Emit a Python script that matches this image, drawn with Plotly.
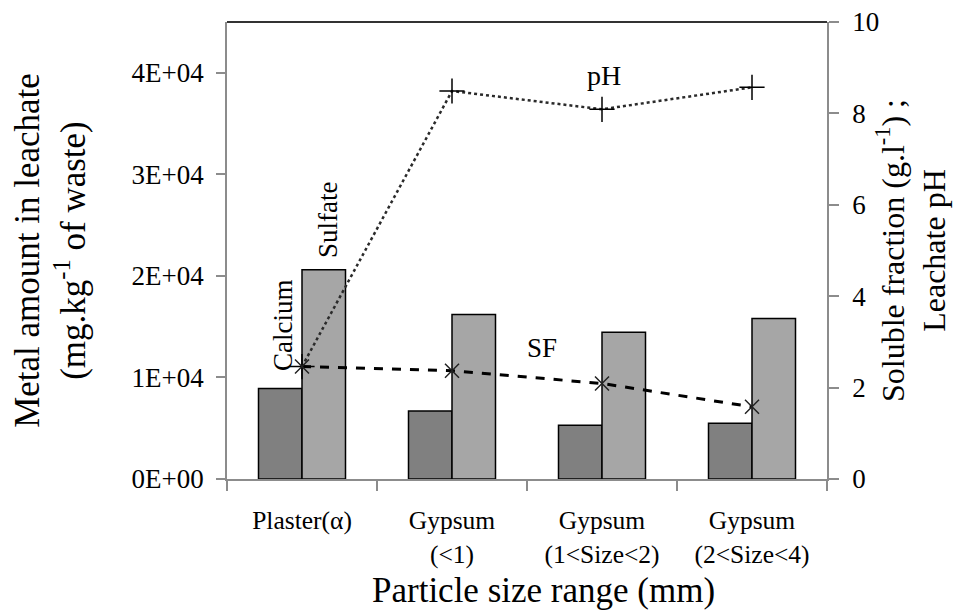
import plotly.graph_objects as go

categories = ["Plaster(α)", "Gypsum<br>(&lt;1)", "Gypsum<br>(1&lt;Size&lt;2)", "Gypsum<br>(2&lt;Size&lt;4)"]
calcium = [8900, 6700, 5300, 5500]
sulfate = [20600, 16200, 14450, 15800]
ph = [2.46, 8.49, 8.09, 8.57]
sf = [2.46, 2.37, 2.09, 1.58]
left_tickvals = [0, 10000, 20000, 30000, 40000]
left_ticktext = ["0E+00", "1E+04", "2E+04", "3E+04", "4E+04"]
right_tickvals = [0, 2, 4, 6, 8, 10]

FONT = "Liberation Serif"
AXC = "#8c8c8c"

# the page body adds an 8 px offset; plot-area edges expressed in figure pixels
OFF = 8
L, R, T, B = 227 - OFF, 827 - OFF, 22 - OFF, 479 - OFF
W, H = R - L, B - T


def px(x):
    return (x - OFF - L) / W


def py(y):
    return (B - (y - OFF)) / H


fig = go.Figure()
fig.add_trace(go.Bar(x=categories, y=calcium, name="Calcium",
                     marker=dict(color="#808080", line=dict(color="black", width=1.5))))
fig.add_trace(go.Bar(x=categories, y=sulfate, name="Sulfate",
                     marker=dict(color="#a6a6a6", line=dict(color="black", width=1.5))))
fig.add_trace(go.Scatter(x=categories, y=ph, name="pH", yaxis="y2", mode="lines+markers",
                         line=dict(color="#2a2a2a", width=2.5, dash="dot"),
                         marker=dict(symbol="cross-thin", size=18, line=dict(color="black", width=1.5))))
fig.add_trace(go.Scatter(x=categories, y=sf, name="SF", yaxis="y2", mode="lines+markers",
                         line=dict(color="black", width=3, dash="dash"),
                         marker=dict(symbol="x-thin", size=14, line=dict(color="#222222", width=1.5))))

fig.update_layout(
    width=963, height=612,
    margin=dict(l=L, r=963 - R, t=T, b=612 - B, autoexpand=False),
    paper_bgcolor="white", plot_bgcolor="white",
    showlegend=False,
    barmode="group", bargap=0.42, bargroupgap=0,
    font=dict(family=FONT, size=25, color="black"),
    xaxis=dict(type="category", tickson="boundaries", ticks="outside", ticklen=10,
               tickcolor=AXC, tickwidth=1.5, showline=True, linecolor=AXC, linewidth=1.5,
               showgrid=False, automargin=False, ticklabelstandoff=18,
               ticklabeloverflow="allow",
               tickfont=dict(size=25.5, family=FONT)),
    yaxis=dict(range=[0, 45000], tickvals=left_tickvals, ticktext=left_ticktext,
               ticks="outside", ticklen=9, tickcolor=AXC, tickwidth=1.5,
               showline=True, linecolor=AXC, linewidth=1.5, showgrid=False, zeroline=False,
               automargin=False, ticklabelstandoff=7, ticklabeloverflow="allow",
               tickfont=dict(size=27, family=FONT),
               title=dict(text="Metal amount in leachate<br>(mg.kg<sup>-1</sup> of waste)",
                          font=dict(size=35, family=FONT), standoff=46)),
    yaxis2=dict(range=[0, 10], tickvals=right_tickvals, overlaying="y", side="right",
                ticks="outside", ticklen=10, tickcolor=AXC, tickwidth=1.5,
                showline=True, linecolor=AXC, linewidth=1.5, showgrid=False, zeroline=False,
                automargin=False, ticklabelstandoff=8, ticklabeloverflow="allow",
                tickfont=dict(size=27, family=FONT),
                title=dict(text="Soluble fraction (g.l<sup>-1</sup>) ;<br>Leachate pH",
                           font=dict(size=32, family=FONT), standoff=3)),
    shapes=[dict(type="line", xref="paper", yref="paper", x0=0, x1=1, y0=1, y1=1,
                 line=dict(color="#333333", width=2))],
    annotations=[
        dict(text="Particle size range (mm)", xref="paper", yref="paper", x=px(543), y=py(590),
             xanchor="center", yanchor="middle", showarrow=False, font=dict(size=35, family=FONT)),
        dict(text="Calcium", xref="paper", yref="paper", x=px(283), y=py(326),
             xanchor="center", yanchor="middle",
             showarrow=False, textangle=-90, font=dict(size=27, family=FONT)),
        dict(text="Sulfate", xref="paper", yref="paper", x=px(328), y=py(220),
             xanchor="center", yanchor="middle",
             showarrow=False, textangle=-90, font=dict(size=27, family=FONT)),
        dict(text="pH", xref="paper", yref="paper", x=px(604), y=py(75),
             xanchor="center", yanchor="middle",
             showarrow=False, font=dict(size=28, family=FONT)),
        dict(text="SF", xref="paper", yref="paper", x=px(542), y=py(348),
             xanchor="center", yanchor="middle",
             showarrow=False, font=dict(size=27, family=FONT)),
    ],
)

fig.write_html("out.html")
